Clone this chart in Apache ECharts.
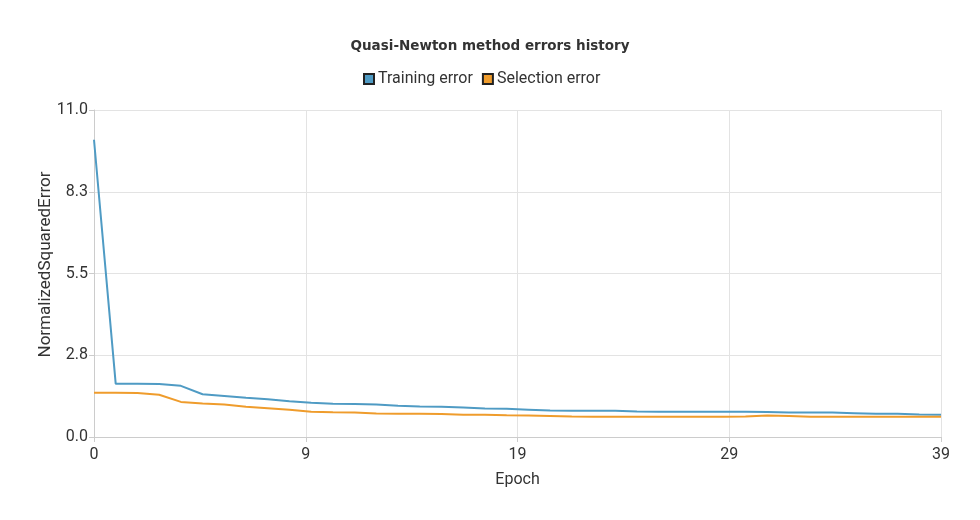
<!DOCTYPE html>
<html>
<head>
<meta charset="utf-8">
<script src="https://cdn.jsdelivr.net/npm/echarts@6/dist/echarts.min.js"></script>
<style>html,body{margin:0;padding:0;background:#fff}#main{width:980px;height:520px}</style>
</head>
<body>
<div id="main"></div>
<script>
var epochs = [];
for (var i = 0; i < 40; i++) epochs.push(i);
var trainingError = [10.0, 1.79, 1.79, 1.78, 1.72, 1.44, 1.38, 1.32, 1.27, 1.20,
  1.15, 1.12, 1.11, 1.09, 1.05, 1.03, 1.02, 0.99, 0.96, 0.95,
  0.92, 0.89, 0.88, 0.88, 0.88, 0.86, 0.85, 0.85, 0.85, 0.85,
  0.85, 0.84, 0.82, 0.82, 0.82, 0.80, 0.78, 0.78, 0.76, 0.75];
var selectionError = [1.49, 1.49, 1.48, 1.42, 1.18, 1.13, 1.09, 1.02, 0.97, 0.92,
  0.85, 0.83, 0.82, 0.79, 0.78, 0.78, 0.77, 0.75, 0.75, 0.73,
  0.72, 0.71, 0.69, 0.68, 0.68, 0.68, 0.68, 0.68, 0.68, 0.68,
  0.69, 0.72, 0.71, 0.68, 0.68, 0.68, 0.68, 0.68, 0.68, 0.68];
var seriesNames = ['Training error', 'Selection error'];

var font = 'Roboto, "Noto Sans", sans-serif';
var chart = echarts.init(document.getElementById('main'));
function pairs(arr) { return arr.map(function (v, i) { return [epochs[i], v]; }); }
chart.setOption({
  animation: false,
  title: {
    text: 'Quasi-Newton method errors history',
    left: 'center', top: 34,
    textStyle: { fontFamily: '"DejaVu Sans", sans-serif', fontSize: 13.5, fontWeight: 'bold', color: '#333' }
  },
  legend: {
    data: seriesNames,
    top: 66, left: 358,
    itemWidth: 10, itemHeight: 10, itemGap: 9,
    icon: 'rect',
    textStyle: { fontFamily: font, fontSize: 16, color: '#333', padding: [0, 0, 0, -1] }
  },
  grid: { left: 94, right: 39, top: 110, bottom: 83 },
  xAxis: {
    type: 'value', min: 0, max: 39, interval: 9.75,
    name: 'Epoch', nameLocation: 'middle', nameGap: 35, nameMoveOverlap: false,
    nameTextStyle: { fontFamily: font, fontSize: 16, color: '#333' },
    axisLine: { lineStyle: { color: '#ccc' } },
    axisTick: { show: true, length: 5, lineStyle: { color: '#ccc' } },
    axisLabel: { fontFamily: font, fontSize: 16, color: '#333', margin: 10,
      formatter: function (v) { return String(Math.floor(v)); } },
    splitLine: { show: true, lineStyle: { color: '#e3e3e3' } }
  },
  yAxis: {
    type: 'value', min: 0, max: 11, interval: 2.75,
    name: 'NormalizedSquaredError', nameLocation: 'middle', nameGap: 40, nameRotate: 90, nameMoveOverlap: false,
    nameTextStyle: { fontFamily: font, fontSize: 17, color: '#333', padding: [0, 0, 0, 18] },
    axisLine: { show: true, lineStyle: { color: '#ccc' } },
    axisTick: { show: true, length: 5, lineStyle: { color: '#ccc' } },
    axisLabel: { fontFamily: font, fontSize: 16, color: '#333', margin: 6,
      formatter: function (v) { return v.toFixed(1); } },
    splitLine: { show: true, lineStyle: { color: '#e3e3e3' } }
  },
  series: [
    { name: seriesNames[0], type: 'line', data: pairs(trainingError), showSymbol: false,
      itemStyle: { color: '#4f9bc4', borderColor: '#222', borderWidth: 1 },
      lineStyle: { color: '#4f9bc4', width: 2 } },
    { name: seriesNames[1], type: 'line', data: pairs(selectionError), showSymbol: false,
      itemStyle: { color: '#ef9c2c', borderColor: '#222', borderWidth: 1 },
      lineStyle: { color: '#ef9c2c', width: 2 } }
  ]
});
</script>
</body>
</html>
